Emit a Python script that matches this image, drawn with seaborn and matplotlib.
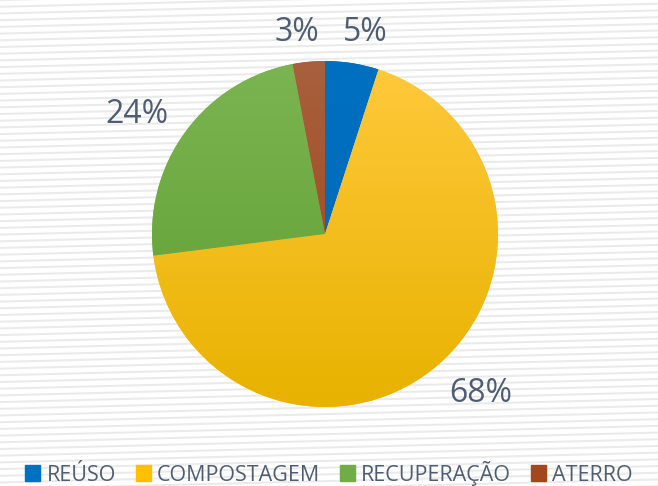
import numpy as np
import matplotlib
matplotlib.use("Agg")
import matplotlib.pyplot as plt
import seaborn as sns
from matplotlib.patches import Rectangle

categorias = ["REÚSO", "COMPOSTAGEM", "RECUPERAÇÃO", "ATERRO"]
valores = [5, 68, 24, 3]
rotulos = ["5%", "68%", "24%", "3%"]
cores_topo = ["#0070C0", "#FFC93C", "#7BB552", "#A8603E"]
cores_base = ["#0068B8", "#E8B200", "#5E9C2E", "#A04210"]
cor_legenda = ["#0070C0", "#FFC000", "#70AD47", "#A5471D"]
cor_texto = "#4F5D73"

sns.set_style("white")
plt.rcParams["font.family"] = ["Open Sans", "DejaVu Sans"]

fig = plt.figure(figsize=(6.58, 4.86), dpi=100)

# fundo listrado
bg = fig.add_axes([0, 0, 1, 1], zorder=0)
bg.set_xlim(0, 658)
bg.set_ylim(486, 0)
bg.axis("off")
xs = np.array([0, 658])
for c in np.arange(-20, 520, 6.7):
    bg.plot(xs, c - 0.025 * xs, color="#EAEAEA", lw=1.4, solid_capstyle="butt")

ax = fig.add_axes([0, 0, 1, 1], zorder=1)
ax.patch.set_alpha(0)
wedges, _ = ax.pie(valores, startangle=90, counterclock=False, radius=1,
                   center=(0, 0), colors=cores_topo,
                   wedgeprops=dict(linewidth=0))

# gradiente vertical em cada fatia
grad = np.linspace(0, 1, 256).reshape(-1, 1)
for w, ct, cb in zip(wedges, cores_topo, cores_base):
    cmap = matplotlib.colors.LinearSegmentedColormap.from_list("g", [cb, ct])
    im = ax.imshow(grad, cmap=cmap, extent=(-1, 1, -1, 1), origin="lower",
                   aspect="auto", zorder=2)
    im.set_clip_path(w)

# pixel -> data: centro (325, 234), raio 173
def px(x, y):
    return ((x - 325) / 173.0, (234 - y) / 173.0)

pos = [(365, 33), (481, 393), (137, 115), (297, 33)]
for r, (x, y) in zip(rotulos, pos):
    dx, dy = px(x, y)
    ax.text(dx, dy, r, ha="center", va="center", fontsize=23,
            color=cor_texto, fontweight="normal", fontstyle="normal")

x0, x1 = px(0, 0)[0], px(658, 0)[0]
y1, y0 = px(0, 0)[1], px(0, 486)[1]
ax.set_xlim(x0, x1)
ax.set_ylim(y0, y1)
ax.set_aspect("equal")
ax.axis("off")

handles = [Rectangle((0, 0), 1, 1, color=c) for c in cor_legenda]
leg = fig.legend(handles, categorias, loc="center", bbox_to_anchor=(0.5, 1 - 473 / 486),
                 ncol=4, frameon=False, handlelength=0.7,
                 handleheight=0.7, handletextpad=0.3, columnspacing=0.9,
                 prop={"size": 15.5})
for t in leg.get_texts():
    t.set_color(cor_texto)

fig.savefig("out.png", dpi=100)
